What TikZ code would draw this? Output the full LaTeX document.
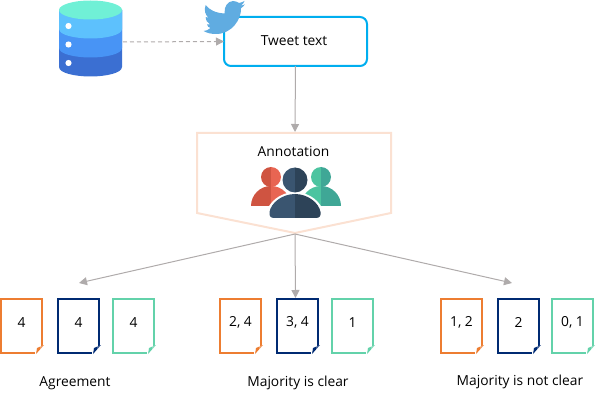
\documentclass[tikz,border=0pt]{standalone}
\usepackage{fontspec}
\setmainfont{Open Sans}
\usetikzlibrary{arrows.meta}
\definecolor{cbox}{HTML}{00AEEF}
\definecolor{cgrey}{HTML}{AFABAB}
\definecolor{cpeach}{HTML}{FBE1D2}
\definecolor{corange}{HTML}{ED7D31}
\definecolor{cnavy}{HTML}{002A72}
\definecolor{cgreen}{HTML}{63D2AA}
\definecolor{cbird}{HTML}{60ACE1}
\definecolor{dbA}{HTML}{3B6FD2}
\definecolor{dbB}{HTML}{4894F5}
\definecolor{dbC}{HTML}{5DC1FD}
\definecolor{dbD}{HTML}{70F0D6}
\definecolor{redL}{HTML}{CF5441}
\definecolor{redR}{HTML}{E86552}
\definecolor{grnL}{HTML}{4CC4A0}
\definecolor{grnR}{HTML}{3FA796}
\definecolor{navL}{HTML}{3A5570}
\definecolor{navR}{HTML}{2D4358}
\tikzset{
  conn/.style={draw=cgrey,line width=1pt,-{Triangle[width=8pt,length=8pt]}},
  dashconn/.style={conn,dashed,dash pattern=on 4pt off 3pt},
  lab/.style={font=\fontsize{13.8}{16}\selectfont,inner sep=0pt,text=black},
  docbox/.style={line width=2pt,miter limit=10},
}
\newcommand{\docsheet}[5]{% name, x0, x1, colour, text
  \draw[docbox,draw=#4,line join=miter] (#3-7,353) -- (#2,353) -- (#2,299) -- (#3,299) -- (#3,346);
  \fill[#4] (#3+2,345) -- (#3-6,354) -- (#3-5,348) -- cycle;
  \fill[white,opacity=.25] (#3+2,345) -- (#3-2,349.5) -- (#3-2,346.5) -- cycle;
  \node[lab] (#1) at ({(#2+#3)/2},322.5) {#5};
}
% half disc: cx, cy, r, side (+1 right, -1 left), colour
\newcommand{\halfdisc}[5]{%
  \fill[#5] (#1,#2-#3) .. controls ({#1+#4*0.5523*#3},#2-#3) and ({#1+#4*#3},{#2-0.5523*#3}) .. ({#1+#4*#3},#2)
    .. controls ({#1+#4*#3},{#2+0.5523*#3}) and ({#1+#4*0.5523*#3},#2+#3) .. (#1,#2+#3) -- cycle;
}
% quarter dome: cx, bottom y, r, side, colour
\newcommand{\quarterdome}[5]{%
  \fill[#5] (#1,#2-#3) .. controls ({#1+#4*0.5523*#3},#2-#3) and ({#1+#4*#3},{#2-0.5523*#3}) .. ({#1+#4*#3},#2) -- (#1,#2) -- cycle;
}
% database layer: lower edge at side height y
\newcommand{\dblayer}[2]{%
  \fill[#2] (59,10) -- (59,#1) .. controls (59,#1+6) and (75,#1+9.5) .. (90.5,#1+9.5)
    .. controls (106,#1+9.5) and (122,#1+6) .. (122,#1) -- (122,10) -- cycle;
}
\begin{document}
\begin{tikzpicture}[x=1pt,y=-1pt]
\useasboundingbox (0,0) rectangle (598,417);
% database
\dblayer{67}{dbA}
\dblayer{48}{dbB}
\dblayer{29}{dbC}
\fill[dbD] (90.5,10) ellipse[x radius=31.5,y radius=9.5];
\foreach \y in {26,44.5,63} \fill[white] (68.5,\y) circle[radius=3.1];
\coordinate (dbout) at (123,42);
% tweet box
\node[draw=cbox,line width=2pt,rounded corners=7pt,minimum width=143pt,minimum height=49pt,inner sep=0pt,outer sep=0pt,lab] (tweet) at (295.5,41.5) {};
\node[lab] (tweettext) at (294,41) {Tweet text};
% bird
\fill[cbird] (203.5,31) .. controls (206,31) and (208,30) .. (210.5,28)
  .. controls (208.5,28) and (207.5,26) .. (207,24.5)
  .. controls (208,24.7) and (209,24.5) .. (210,24.3)
  .. controls (207.5,23) and (205.8,20.5) .. (205.7,17)
  .. controls (206.5,17.5) and (207.7,17.8) .. (208.7,17.8)
  .. controls (205.5,15.5) and (203.5,10) .. (205.7,5)
  .. controls (209,9.5) and (215,13) .. (224.7,13.5)
  .. controls (223.5,7) and (228,1) .. (233,1)
  .. controls (235.5,1) and (237.5,2) .. (239,3)
  .. controls (241,2.5) and (243,2) .. (244.5,1)
  .. controls (244,3) and (242.5,4.5) .. (241,5.5)
  .. controls (242.5,5.3) and (244,5) .. (245,4.3)
  .. controls (244,6) and (242.5,7) .. (241,8.3)
  .. controls (241.5,19) and (232,34) .. (216,34)
  .. controls (211,34) and (207,33) .. (203.5,31) -- cycle;
% annotation
\draw[cpeach,line width=2pt,miter limit=10] (197,133) -- (391,133) -- (391,213) -- (295,233) -- (197,213) -- cycle;
\coordinate (annotop) at (295,132);
\coordinate (annotip) at (295,234);
\node[lab] (annolabel) at (293.5,151.5) {Annotation};
% people: red
\halfdisc{271}{177}{10}{-1}{redL}
\halfdisc{271}{177}{10}{1}{redR}
\quarterdome{271}{206}{20}{-1}{redL}
\quarterdome{271}{206}{20}{1}{redR}
% people: green
\halfdisc{321}{177}{10}{-1}{grnL}
\halfdisc{321}{177}{10}{1}{grnR}
\quarterdome{321}{206}{20}{-1}{grnL}
\quarterdome{321}{206}{20}{1}{grnR}
% people: navy, with white halo
\fill[white] (267,218) -- (267,212) .. controls (268,203) and (280,192) .. (295,192) .. controls (310,192) and (322,203) .. (323,212) -- (323,218) -- cycle;
\halfdisc{295}{180}{12.5}{-1}{navL}
\halfdisc{295}{180}{12.5}{1}{navR}
\fill[navL] (295,194) .. controls (282,194) and (271,203) .. (269.5,212) .. controls (269,216) and (270.5,218) .. (274,218) -- (295,218) -- cycle;
\fill[navR] (295,194) .. controls (308,194) and (319,203) .. (320.5,212) .. controls (321,216) and (319.5,218) .. (316,218) -- (295,218) -- cycle;
% documents
\docsheet{a1}{1}{42}{corange}{4}
\docsheet{a2}{58}{99}{cnavy}{4}
\docsheet{a3}{113}{154}{cgreen}{4}
\docsheet{b1}{220}{261}{corange}{2, 4}
\docsheet{b2}{277}{318}{cnavy}{3, 4}
\docsheet{b3}{332}{373}{cgreen}{1}
\docsheet{c1}{441}{482}{corange}{1, 2}
\docsheet{c2}{498}{539}{cnavy}{2}
\docsheet{c3}{552}{593}{cgreen}{0, 1}
\node[lab] (agree) at (75,383) {Agreement};
\node[lab] (clear) at (298,383) {Majority is clear};
\node[lab] (notclear) at (520,382) {Majority is not clear};
% connectors
\coordinate (t1) at (79,283);
\coordinate (t2) at (295.5,298);
\coordinate (t3) at (512,283);
\draw[dashconn] (dbout) -- (tweet.west);
\draw[conn] (tweet.south) -- (annotop);
\draw[conn] (annotip) -- (t1);
\draw[conn] (annotip) -- (t2);
\draw[conn] (annotip) -- (t3);
\end{tikzpicture}
\end{document}
